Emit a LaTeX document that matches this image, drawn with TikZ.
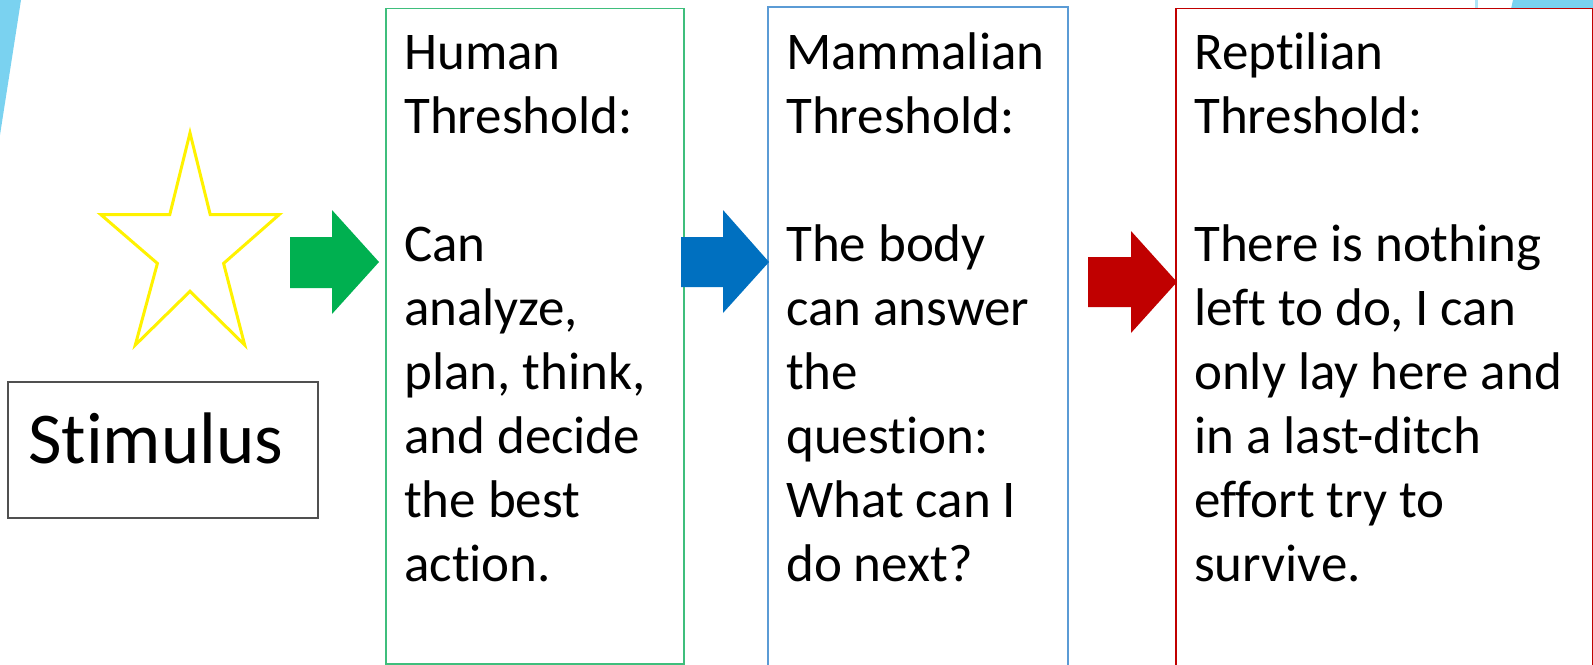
\documentclass[tikz,border=0pt]{standalone}
\usepackage{fontspec}
\setmainfont{Carlito}[Ligatures=NoCommon]
\definecolor{facet}{HTML}{7AD2F0}
\definecolor{grn}{HTML}{00B050}
\definecolor{grnline}{HTML}{3FBE7C}
\definecolor{blu}{HTML}{0070C0}
\definecolor{bluline}{HTML}{5B9BD5}
\definecolor{rd}{HTML}{C00000}
\definecolor{stimline}{HTML}{505050}
\tikzset{
  panel/.style={line width=1.5pt, fill=white},
  bodytext/.style={anchor=base west, inner sep=0pt, text width=420pt, align=flush left,
    font=\fontsize{53}{64}\selectfont},
}
\begin{document}
\begin{tikzpicture}[x=1pt,y=-1pt]
\useasboundingbox (0,0) rectangle (1593,664);
% background facet shapes
\fill[facet] (0,0) -- (21,0) -- (0,135) -- cycle;
\fill[facet] (1513,0) -- (1593,0) -- (1593,9) -- (1511,9) -- cycle;
\fill[facet!60] (1475,0) rectangle (1477.5,9);
% star
\draw[yellow, line width=3pt, line join=miter]
  (190,132.9) -- (210.2,214.5) -- (279.3,214.5) -- (223.6,263.4) -- (244.7,345) -- (190,291.3)
  -- (135.3,345) -- (157.4,263.4) -- (100.7,214.5) -- (169.8,214.5) -- cycle;
% stimulus
\node[draw=stimline, line width=1.5pt, minimum width=310pt, minimum height=136pt, inner sep=0pt]
  (stimbox) at (163,450) {};
\node[anchor=base west, inner sep=0pt, font=\fontsize{73}{88}\selectfont] (stim) at (28,463) {Stimulus};
% panels
\node[panel, draw=grnline, anchor=north west, minimum width=298pt, minimum height=655.5pt, inner sep=0pt] (human) at (385,7.5) {};
\node[panel, draw=bluline, anchor=north west, minimum width=300pt, minimum height=665pt, inner sep=0pt] (mammal) at (767,6) {};
\node[panel, draw=rd, anchor=north west, minimum width=417pt, minimum height=665pt, inner sep=0pt] (reptile) at (1175,7.5) {};
% texts
\node[bodytext] (humantext) at (404,69) {Human\\Threshold:\\[64pt]Can\\analyze,\\plan, think,\\and decide\\the best\\action.};
\node[bodytext] (mammaltext) at (786,69) {Mammalian\\Threshold:\\[64pt]The body\\can answer\\the\\question:\\What can I\\do next?};
\node[bodytext] (reptiletext) at (1194,69) {Reptilian\\Threshold:\\[64pt]There is nothing\\left to do, I can\\only lay here and\\in a last-ditch\\effort try to\\survive.};
% block arrows
\fill[grn] (290,237) -- (332,237) -- (332,210) -- (379,262) -- (332,314) -- (332,288) -- (290,288) -- cycle;
\fill[blu] (681,237) -- (723,237) -- (723,210) -- (769,262) -- (723,313) -- (723,287) -- (681,287) -- cycle;
\fill[rd] (1088,257) -- (1131,257) -- (1131,231) -- (1177,282) -- (1131,333) -- (1131,307) -- (1088,307) -- cycle;
\end{tikzpicture}
\end{document}
